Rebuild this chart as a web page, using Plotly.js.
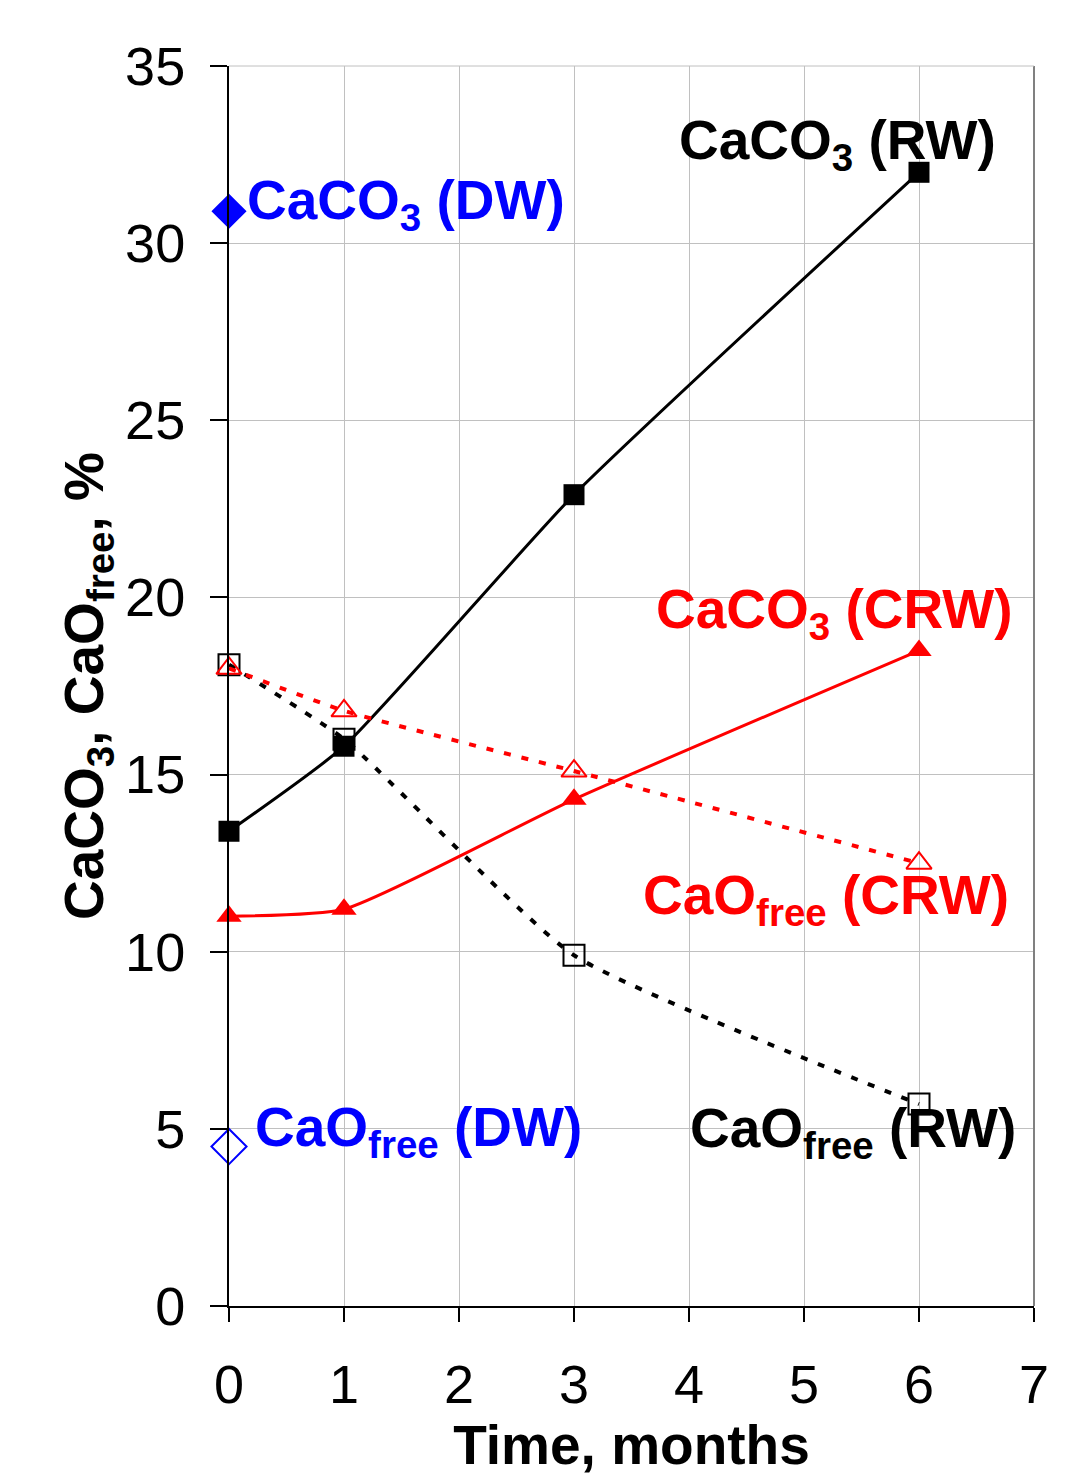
<!DOCTYPE html>
<html>
<head>
<meta charset="utf-8">
<script src="https://cdn.plot.ly/plotly-3.0.1.min.js"></script>
<style>html,body{margin:0;padding:0;background:#fff;}#chart{width:1088px;height:1476px;}</style>
</head>
<body>
<div id="chart"></div>
<script>
const months = [0, 1, 3, 6];
const caco3RW = [13.4, 15.8, 22.9, 32.0];
const caoRW = [18.1, 16.0, 9.9, 5.7];
const caco3CRW = [11.0, 11.2, 14.3, 18.5];
const caoCRW = [18.0, 16.8, 15.1, 12.5];
const dwTime = [0];
const caco3DW = [30.9];
const caoDW = [4.5];

const traces = [
  {x: months, y: caco3RW, mode: 'lines+markers', cliponaxis: false, line: {color: '#000', width: 3, shape: 'spline', smoothing: 0.5},
   marker: {symbol: 'square', size: 21, color: '#000'}, name: 'CaCO3 (RW)'},
  {x: months, y: caoRW, mode: 'lines+markers', cliponaxis: false, line: {color: '#000', width: 4, dash: '7px,11px', shape: 'spline', smoothing: 0.5},
   marker: {symbol: 'square-open', size: 21, color: '#000', line: {width: 2}}, name: 'CaO free (RW)'},
  {x: months, y: caco3CRW, mode: 'lines+markers', cliponaxis: false, line: {color: '#ff0000', width: 3, shape: 'spline', smoothing: 0.5},
   marker: {symbol: 'triangle-up', size: 22, color: '#ff0000'}, name: 'CaCO3 (CRW)'},
  {x: months, y: caoCRW, mode: 'lines+markers', cliponaxis: false, line: {color: '#ff0000', width: 4, dash: '7px,11px', shape: 'spline', smoothing: 0.5},
   marker: {symbol: 'triangle-up-open', size: 22, color: '#ff0000', line: {width: 2}}, name: 'CaO free (CRW)'},
  {x: dwTime, y: caco3DW, mode: 'markers', cliponaxis: false, marker: {symbol: 'diamond', size: 27, color: '#0000ff'}, name: 'CaCO3 (DW)'},
  {x: dwTime, y: caoDW, mode: 'markers', cliponaxis: false, marker: {symbol: 'diamond-open', size: 27, color: '#0000ff', line: {width: 2}}, name: 'CaO free (DW)'}
];

function ann(text, x, y, color, xanchor) {
  return {text: '<b>' + text + '</b>', x: x, y: y, xref: 'x', yref: 'y', showarrow: false,
    xanchor: xanchor || 'center', yanchor: 'middle', borderpad: 0,
    font: {family: 'Liberation Sans, Arial, sans-serif', size: 55, color: color}};
}

const layout = {
  width: 1088, height: 1476,
  margin: {l: 229, r: 54, t: 66, b: 170},
  paper_bgcolor: '#fff', plot_bgcolor: '#fff',
  showlegend: false,
  font: {family: 'Liberation Sans, Arial, sans-serif', size: 54, color: '#000'},
  xaxis: {range: [0, 7], dtick: 1, tick0: 0, showgrid: true, gridcolor: '#c0c0c0', gridwidth: 1,
    zeroline: false, showline: true, linecolor: '#000', linewidth: 2, ticks: 'outside', ticklen: 14, tickwidth: 2,
    tickcolor: '#000', ticklabelstandoff: 16, mirror: false,
    tickfont: {size: 54},
    title: {text: '<b>Time, months</b>', font: {size: 55}, standoff: 12}},
  yaxis: {range: [0, 35], dtick: 5, tick0: 0, showgrid: true, gridcolor: '#c0c0c0', gridwidth: 1,
    zeroline: false, showline: true, linecolor: '#000', linewidth: 2, ticks: 'outside', ticklen: 17, tickwidth: 2,
    tickcolor: '#000', ticklabelstandoff: 14,
    tickfont: {size: 54},
    title: {text: '<b>CaCO<sub>3</sub>, CaO<sub>free</sub>, %</b>', font: {size: 55}, standoff: 4}},
  shapes: [
    {type: 'line', xref: 'paper', yref: 'paper', x0: 1, x1: 1, y0: 0, y1: 1, line: {color: '#808080', width: 2}},
    {type: 'line', xref: 'paper', yref: 'paper', x0: 0, x1: 1, y0: 1, y1: 1, line: {color: '#c0c0c0', width: 1}}
  ],
  annotations: [
    ann('CaCO<sub>3</sub> (RW)', 6.68, 32.8, '#000', 'right'),
    ann('CaCO<sub>3</sub> (DW)', 0.15, 31.1, '#0000ff', 'left'),
    ann('CaCO<sub>3</sub> (CRW)', 6.83, 19.55, '#ff0000', 'right'),
    ann('CaO<sub>free</sub> (CRW)', 6.79, 11.5, '#ff0000', 'right'),
    ann('CaO<sub>free</sub> (DW)', 0.22, 4.95, '#0000ff', 'left'),
    ann('CaO<sub>free</sub> (RW)', 6.85, 4.9, '#000', 'right')
  ]
};

Plotly.newPlot('chart', traces, layout, {displayModeBar: false, staticPlot: true});
</script>
</body>
</html>
